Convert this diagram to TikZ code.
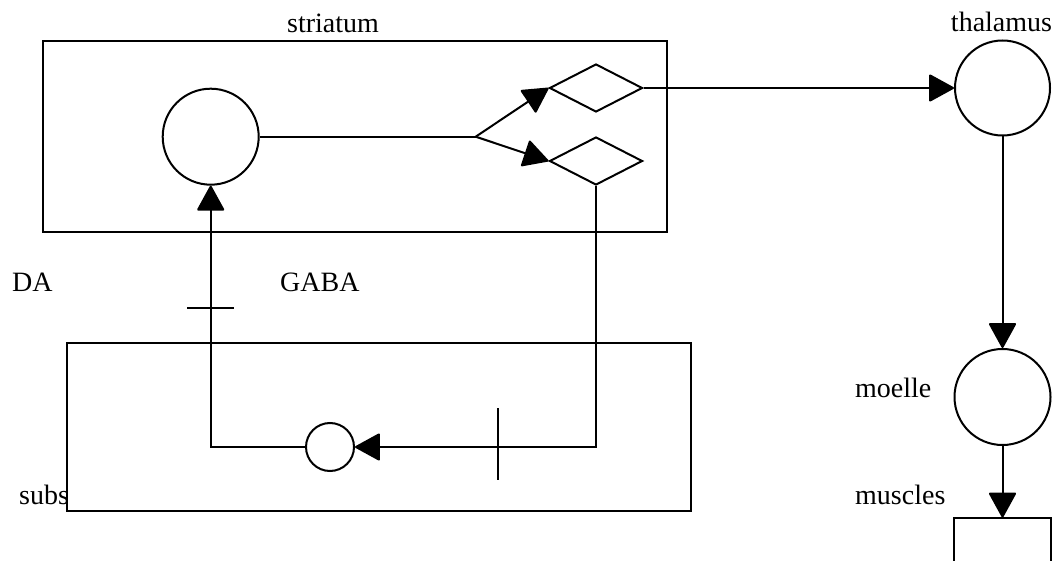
\documentclass[tikz,border=0pt]{standalone}
\usepackage{fontspec}
\setmainfont{Liberation Serif}
\usetikzlibrary{shapes.geometric,arrows.meta}
\begin{document}
\begin{tikzpicture}[x=1pt,y=-1pt,
  ln/.style={line width=2pt, line join=miter},
  arr/.style={ln, -{Triangle[length=26pt,width=28pt,round]}},
  lbl/.style={inner sep=0pt, font=\fontsize{28}{32}\selectfont},
  circ/.style={circle, draw, line width=2pt, inner sep=0pt},
  dia/.style={diamond, draw, line width=2pt, inner sep=0pt, minimum width=93pt, minimum height=48pt},
  boxst/.style={rectangle, draw, line width=2pt, inner sep=0pt, fill=white}
]
\useasboundingbox (0,0) rectangle (1054,561);

% labels
\node[lbl, anchor=base] (tstriatum) at (333,33) {striatum};
\node[lbl, anchor=base] (tthalamus) at (1001.5,32) {thalamus};
\node[lbl, anchor=base west] (tda) at (12,291) {DA};
\node[lbl, anchor=base west] (tgaba) at (280,291) {GABA};
\node[lbl, anchor=base west] (tmoelle) at (855,397) {moelle};
\node[lbl, anchor=base west] (tmuscles) at (855,504) {muscles};
\node[lbl, anchor=base west] (tsubs) at (19,504) {subs};

% boxes
\node[boxst, minimum width=624pt, minimum height=191.3pt] (stbox) at (354.7,136.65) {};
\node[boxst, minimum width=624pt, minimum height=167.7pt] (snbox) at (379,427.15) {};

% nodes
\node[circ, minimum size=96pt] (big) at (210.7,136.7) {};
\node[dia] (dup) at (596,88) {};
\node[dia] (dlow) at (596,161) {};
\coordinate (branch) at (475.7,136.7);
\node[circ, minimum size=95pt] (thal) at (1002.5,88) {};
\node[circ, minimum size=96pt] (moelle) at (1002.5,397) {};
\node[circ, minimum size=48pt] (small) at (330,447) {};
\node[inner sep=0pt, minimum width=96pt, minimum height=43.3pt] (mbox) at (1002.5,539.35) {};

% connectors
\draw[ln] (big.east) -- (branch);
\draw[arr] (branch) -- (dup.west);
\draw[arr] (branch) -- (dlow.west);
\draw[arr] (dup.east) -- (thal.west);
\draw[arr] (thal.south) -- (moelle.north);
\draw[arr] (moelle.south) -- (mbox.north);
\draw[ln] (mbox.south west) -- (mbox.north west) -- (mbox.north east) -- (mbox.south east);
\draw[arr] (dlow.south) |- (small.east);
\draw[arr] (small.west) -| (big.south);

% inhibitory ticks
\coordinate (tickA1) at (187,308);
\coordinate (tickA2) at (234,308);
\draw[ln] (tickA1) -- (tickA2);
\coordinate (tickB1) at (498,408);
\coordinate (tickB2) at (498,480);
\draw[ln] (tickB1) -- (tickB2);
\end{tikzpicture}
\end{document}
